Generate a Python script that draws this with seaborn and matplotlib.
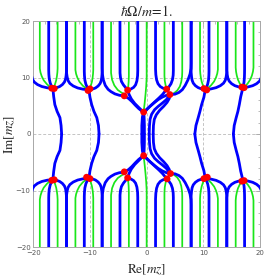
import numpy as np
import pandas as pd
import matplotlib
matplotlib.use("Agg")
import matplotlib.pyplot as plt
import seaborn as sns
from matplotlib.ticker import MultipleLocator

sns.set_style("white")
plt.rcParams["mathtext.fontset"] = "stix"
plt.rcParams["font.family"] = ["DejaVu Sans"]

# ---------------- data (upper half; lower half is its mirror) -------------
# outer cells: saddle point and the vertical asymptotes of the curves leaving it
cell_sx = [-16.55, -10.2, 10.35, 17.0]
cell_sy = [8.1, 7.85, 7.9, 8.25]
cell_blue_left = [-20.42, -14.14, 7.85, 14.14]
cell_green_left = [-18.85, -12.57, 9.42, 15.71]
cell_blue_up = [-17.28, -11.0, 11.0, 17.28]
cell_green_right = [-15.71, -9.42, 12.57, 18.85]
cell_blue_right = [-14.14, -7.85, 14.14, 20.42]

# shape profiles: fraction of the way to the asymptote vs rise above the saddle
arc_f = [0.0, 0.25, 0.50, 0.70, 0.85, 0.93, 0.97, 1.0, 1.0]
arc_dy = [0.0, 0.07, 0.30, 0.65, 1.10, 1.60, 2.20, 3.0, 13.0]
grn_f = [0.0, 0.20, 0.45, 0.70, 0.85, 0.95, 1.0, 1.0]
grn_dy = [0.0, 0.20, 0.70, 1.40, 2.10, 2.80, 3.5, 13.0]
up_f = [0.0, 0.35, 0.65, 0.88, 0.97, 1.0, 1.0]
up_dy = [0.0, 0.40, 0.95, 1.70, 2.50, 3.2, 13.0]

# lines from the outer saddles down to the real axis
down_x = [[-16.55, -16.4, -16.2, -15.8, -15.3, -15.1, -15.0],
          [-10.2, -10.0, -9.7, -9.3, -8.8, -8.5, -8.4],
          [10.35, 10.1, 9.7, 9.4, 9.1, 8.7, 8.5],
          [17.0, 16.6, 16.35, 16.1, 15.8, 15.45, 15.3]]
down_y = [[8.1, 6.6, 5.2, 4.0, 2.9, 1.5, 0.0],
          [7.85, 6.5, 5.2, 4.0, 2.9, 1.5, 0.0],
          [7.9, 6.5, 5.2, 4.0, 2.9, 1.5, 0.0],
          [8.25, 6.6, 5.2, 4.0, 2.9, 1.5, 0.0]]

# central cell curves (explicit)
center_blue = [
    ([-3.95, -4.8, -5.6, -6.3, -6.8, -7.3, -7.65, -7.82, -7.85, -7.85],
     [6.75, 6.85, 7.1, 7.5, 7.9, 8.6, 9.6, 10.7, 11.7, 21]),
    ([-3.35, -3.7, -4.1, -4.45, -4.62, -4.7, -4.71],
     [7.76, 8.2, 8.7, 9.3, 10.0, 10.8, 21]),
    ([-3.35, -2.8, -2.3, -1.95, -1.72, -1.6, -1.57, -1.57],
     [7.76, 7.95, 8.25, 8.7, 9.4, 10.3, 11.2, 21]),
    ([3.53, 2.9, 2.4, 2.0, 1.75, 1.62, 1.57, 1.57],
     [7.94, 8.1, 8.4, 8.9, 9.6, 10.5, 11.5, 21]),
    ([3.53, 3.9, 4.3, 4.55, 4.68, 4.71, 4.71],
     [7.94, 8.3, 8.9, 9.6, 10.4, 11.2, 21]),
    ([4.1, 5.0, 5.7, 6.3, 6.8, 7.3, 7.65, 7.82, 7.85, 7.85],
     [6.98, 7.05, 7.35, 7.85, 8.6, 9.6, 10.6, 11.6, 12.5, 21]),
    ([-3.95, -3.2, -2.6, -2.0, -1.4, -0.9, -0.53],
     [6.75, 6.3, 5.75, 5.1, 4.5, 4.1, 3.88]),
    ([-3.35, -3.1, -2.7, -2.1, -1.4, -0.8, -0.53],
     [7.76, 7.0, 6.2, 5.4, 4.7, 4.1, 3.88]),
    ([-0.53, 0.0, 0.6, 1.3, 2.05, 2.8, 3.5, 4.1],
     [3.88, 4.3, 4.9, 5.5, 6.1, 6.55, 6.85, 6.98]),
    ([-0.53, 0.1, 0.8, 1.5, 2.2, 2.8, 3.2, 3.53],
     [3.88, 4.45, 5.1, 5.75, 6.4, 7.0, 7.5, 7.94]),
    ([-0.53, -0.75, -0.85, -0.85], [3.88, 3.0, 1.5, 0.0]),
    ([-0.53, -0.45, -0.4, -0.4], [3.88, 3.0, 1.5, 0.0]),
    ([0.45, 0.5, 0.6, 0.88, 1.4, 2.05, 2.8, 3.5, 4.1],
     [0.0, 1.5, 2.6, 3.5, 4.3, 4.9, 5.5, 6.1, 6.98]),
    ([1.15, 1.2, 1.35, 1.7, 2.3, 3.0, 3.6, 4.0, 4.1],
     [0.0, 1.5, 2.6, 3.4, 4.2, 4.9, 5.6, 6.3, 6.98]),
]
center_green = [
    ([-6.28, -6.28, -6.1, -5.7, -5.1, -4.4, -3.8],
     [21, 10.8, 9.6, 8.6, 7.8, 7.3, 7.0]),
    ([-3.35, -3.25, -3.18, -3.14, -3.14], [7.76, 8.4, 9.2, 10.2, 21]),
    ([-0.53, -0.35, -0.2, -0.08, 0.0, 0.0], [3.88, 5.5, 7.0, 8.5, 10.0, 21]),
    ([3.53, 3.35, 3.2, 3.14, 3.14], [7.94, 8.6, 9.4, 10.3, 21]),
    ([4.1, 4.8, 5.4, 5.85, 6.1, 6.25, 6.28, 6.28],
     [6.98, 7.2, 7.7, 8.4, 9.2, 10.2, 11.0, 21]),
]

# saddle points (red dots)
dot_x = [-16.75, -16.3, -10.35, -10.0, -3.35, -3.95, -0.53, 3.53, 4.1, 10.1, 10.6, 16.8, 17.2,
         -16.75, -16.3, -10.6, -10.0, -3.95, -3.35, -0.53, 4.2, 3.6, 10.1, 10.7, 16.8, 17.2]
dot_y = [8.1, 8.05, 7.7, 8.0, 7.76, 6.75, 3.88, 7.94, 6.98, 8.04, 7.8, 8.3, 8.2,
         -8.2, -8.1, -7.65, -7.9, -6.7, -7.76, -3.83, -7.0, -7.94, -7.9, -7.65, -8.35, -8.25]

ticks = [-20, -10, 0, 10, 20]

# ---------------- assemble curves ----------------
rows = []
cid = [0]


def add(xs, ys, kind):
    for sgn in (1, -1):
        for x, y in zip(xs, ys):
            rows.append((cid[0], kind, x, sgn * y))
        cid[0] += 1


def profile(sx, sy, xa, pf, pdy):
    return [sx + f * (xa - sx) for f in pf], [sy + d for d in pdy]


for i in range(len(cell_sx)):
    sx, sy = cell_sx[i], cell_sy[i]
    add(*profile(sx, sy, cell_green_left[i], grn_f, grn_dy), "green")
    add(*profile(sx, sy, cell_green_right[i], grn_f, grn_dy), "green")
    add(*profile(sx, sy, cell_blue_left[i], arc_f, arc_dy), "blue")
    add(*profile(sx, sy, cell_blue_right[i], arc_f, arc_dy), "blue")
    add(*profile(sx, sy, cell_blue_up[i], up_f, up_dy), "blue")
    add(down_x[i], down_y[i], "blue")

for xs, ys in center_green:
    add(xs, ys, "green")
for xs, ys in center_blue:
    add(xs, ys, "blue")

df = pd.DataFrame(rows, columns=["cid", "kind", "x", "y"])

# ---------------- figure ----------------
fig = plt.figure(figsize=(2.74, 2.80), dpi=100)
ax = fig.add_axes([33.3 / 274, 1 - 247 / 280, 226.7 / 274, 226 / 280])

for v in [-10, 0, 10]:
    ax.axhline(v, color="#c4c4c4", lw=0.7, ls=(0, (3, 2)), zorder=0)
    ax.axvline(v, color="#c4c4c4", lw=0.7, ls=(0, (3, 2)), zorder=0)

sns.lineplot(data=df[df.kind == "green"], x="x", y="y", units="cid", estimator=None,
             sort=False, color="#19e619", lw=1.25, ax=ax, zorder=2)
sns.lineplot(data=df[df.kind == "blue"], x="x", y="y", units="cid", estimator=None,
             sort=False, color="#0000ff", lw=2.0, ax=ax, zorder=3)
sns.scatterplot(x=dot_x, y=dot_y, color="#ff0000", s=24, edgecolor="none", ax=ax, zorder=5)

ax.set_xlim(-20, 20)
ax.set_ylim(-20, 20)
ax.set_xticks(ticks)
ax.set_yticks(ticks)
ax.xaxis.set_minor_locator(MultipleLocator(2))
ax.yaxis.set_minor_locator(MultipleLocator(2))
ax.tick_params(which="both", direction="in", top=True, right=True, color="#a0a0a0",
               width=0.5, labelsize=5, labelcolor="#555555", pad=2)
ax.tick_params(which="major", length=3.5)
ax.tick_params(which="minor", length=1.8)
for s in ax.spines.values():
    s.set_color("#a8a8a8")
    s.set_linewidth(0.7)

ax.set_xlabel(r"$\mathrm{Re}[mz]$", fontsize=9.5, va="center")
ax.set_ylabel(r"$\mathrm{Im}[mz]$", fontsize=9.5, va="center")
ax.xaxis.set_label_coords(0.5, -0.102)
ax.yaxis.set_label_coords(-0.103, 0.5)
ax.set_title(r"$\hbar\Omega/m\!=\!1.$", fontsize=10, y=1.04, pad=0, va="center")

fig.savefig("out.png", dpi=100)
